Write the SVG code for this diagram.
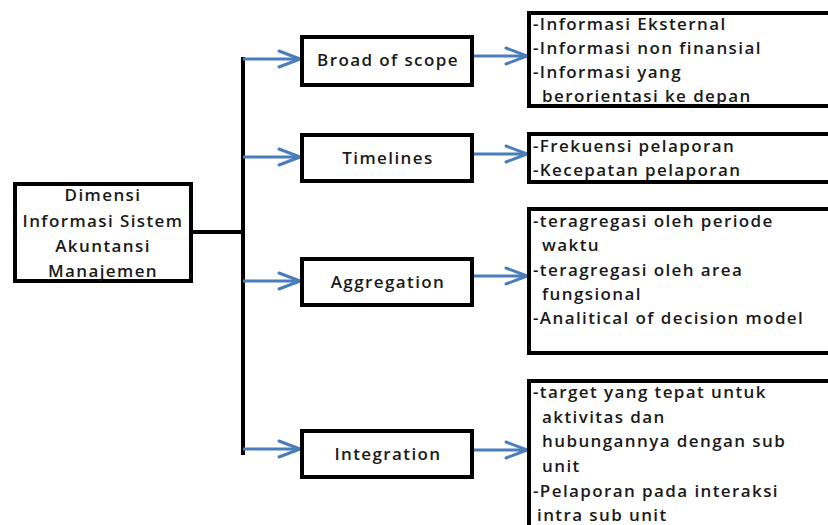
<svg xmlns="http://www.w3.org/2000/svg" width="828" height="525" viewBox="0 0 828 525">
<defs>
<marker id="ah" markerUnits="userSpaceOnUse" markerWidth="26" markerHeight="22" viewBox="0 0 26 22" refX="23" refY="11" orient="auto">
<path d="M2,3 L23,11 L2,19" fill="none" stroke="#4a7ebb" stroke-width="3" stroke-linecap="round" stroke-linejoin="round"/>
</marker>
<style>
.box{fill:#fff;stroke:#000;stroke-width:4}
.t{font-family:"Open Sans","DejaVu Sans",sans-serif;font-size:17px;font-weight:600;letter-spacing:1.4px;fill:#1a1a1a}
.c{text-anchor:middle}
.ln{stroke:#000;stroke-width:4;fill:none}
.ar{stroke:#4a7ebb;stroke-width:3;fill:none;marker-end:url(#ah)}
</style>
</defs>
<rect width="828" height="525" fill="#fff"/>
<g id="connectors">
<line class="ln" x1="193" y1="232" x2="243" y2="232"/>
<line class="ln" x1="243" y1="57" x2="243" y2="455"/>
<line class="ar" x1="243" y1="59" x2="300" y2="59"/>
<line class="ar" x1="243" y1="157" x2="300" y2="157"/>
<line class="ar" x1="243" y1="281" x2="300" y2="281"/>
<line class="ar" x1="243" y1="449" x2="300" y2="449"/>
<line class="ar" x1="474" y1="56" x2="527" y2="56"/>
<line class="ar" x1="474" y1="154" x2="527" y2="154"/>
<line class="ar" x1="474" y1="276" x2="527" y2="276"/>
<line class="ar" x1="474" y1="450" x2="527" y2="450"/>
</g>
<g id="root">
<rect class="box" x="15" y="184" width="176" height="97"/>
<text class="t c" x="103" y="201">Dimensi</text>
<text class="t c" x="103" y="227">Informasi Sistem</text>
<text class="t c" x="103" y="252">Akuntansi</text>
<text class="t c" x="103" y="277">Manajemen</text>
</g>
<g id="broad">
<rect class="box" x="302" y="37" width="170" height="48"/>
<text class="t c" x="388" y="66">Broad of scope</text>
</g>
<g id="timelines">
<rect class="box" x="302" y="135" width="170" height="46"/>
<text class="t c" x="388" y="164">Timelines</text>
</g>
<g id="aggregation">
<rect class="box" x="302" y="259" width="170" height="46"/>
<text class="t c" x="388" y="288">Aggregation</text>
</g>
<g id="integration">
<rect class="box" x="302" y="431" width="170" height="46"/>
<text class="t c" x="388" y="460">Integration</text>
</g>
<g id="detail-broad">
<rect class="box" x="529" y="13" width="320" height="93"/>
<text class="t" x="533" y="30">-Informasi Eksternal</text>
<text class="t" x="533" y="54">-Informasi non finansial</text>
<text class="t" x="533" y="78">-Informasi yang</text>
<text class="t" x="542" y="102">berorientasi ke depan</text>
</g>
<g id="detail-timelines">
<rect class="box" x="529" y="134" width="320" height="48"/>
<text class="t" x="533" y="152">-Frekuensi pelaporan</text>
<text class="t" x="533" y="176">-Kecepatan pelaporan</text>
</g>
<g id="detail-aggregation">
<rect class="box" x="529" y="209" width="320" height="144"/>
<text class="t" x="533" y="227">-teragregasi oleh periode</text>
<text class="t" x="542" y="251">waktu</text>
<text class="t" x="533" y="276">-teragregasi oleh area</text>
<text class="t" x="542" y="300">fungsional</text>
<text class="t" x="533" y="324">-Analitical of decision model</text>
</g>
<g id="detail-integration">
<rect class="box" x="529" y="381" width="320" height="170"/>
<text class="t" x="533" y="398">-target yang tepat untuk</text>
<text class="t" x="542" y="423">aktivitas dan</text>
<text class="t" x="542" y="447">hubungannya dengan sub</text>
<text class="t" x="542" y="472">unit</text>
<text class="t" x="533" y="497">-Pelaporan pada interaksi</text>
<text class="t" x="537" y="521">intra sub unit</text>
</g>
</svg>
